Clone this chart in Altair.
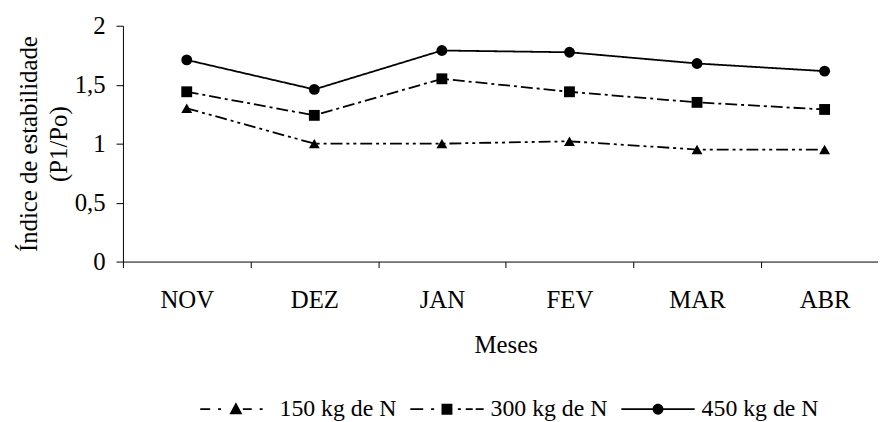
import altair as alt
import pandas as pd

months = ["NOV", "DEZ", "JAN", "FEV", "MAR", "ABR"]
series = ["150 kg de N", "300 kg de N", "450 kg de N"]
v150 = [1.30, 1.00, 1.00, 1.02, 0.95, 0.95]
v300 = [1.44, 1.24, 1.55, 1.44, 1.35, 1.29]
v450 = [1.71, 1.46, 1.79, 1.775, 1.68, 1.615]
y_ticks = [0, 0.5, 1, 1.5, 2]

rows = []
for name, vals in zip(series, [v150, v300, v450]):
    for m, v in zip(months, vals):
        rows.append({"Mes": m, "Serie": name, "Valor": v})
df = pd.DataFrame(rows)

# legend symbols: line + marker drawn as one custom path (unit = 37 px)
U = 37.0
H = 0.9


def seg(x0, x1, h=H):
    return (f"M{x0/U:.4f},{-h/U:.4f}L{x1/U:.4f},{-h/U:.4f}"
            f"L{x1/U:.4f},{h/U:.4f}L{x0/U:.4f},{h/U:.4f}Z")


def tri():
    return (f"M0,{-7/U:.4f}L{6.5/U:.4f},{5/U:.4f}L{-6.5/U:.4f},{5/U:.4f}Z")


def sq():
    s = 5.5 / U
    return f"M{-s:.4f},{-s:.4f}L{s:.4f},{-s:.4f}L{s:.4f},{s:.4f}L{-s:.4f},{s:.4f}Z"


def circ():
    r = 5.5 / U
    return f"M{r:.4f},0A{r:.4f},{r:.4f} 0 1,1 {-r:.4f},0A{r:.4f},{r:.4f} 0 1,1 {r:.4f},0Z"


p150 = seg(-36, -26) + seg(-18, -15) + tri() + seg(7, 16) + seg(24, 27)
p300 = seg(-37, -24) + seg(-16, -13) + sq() + seg(11, 14) + seg(19, 26) + seg(29, 37)
p450 = seg(-37, -5) + circ() + seg(5, 37)

FONT = "Liberation Serif, Times New Roman, serif"

x_enc = alt.X(
    "Mes:N",
    sort=months,
    scale=alt.Scale(domain=months, range=[0, 772.5], paddingInner=0, paddingOuter=0),
    axis=alt.Axis(
        title="Meses",
        labelAngle=0,
        tickBand="extent",
        tickSize=6,
        labelPadding=20,
        titlePadding=21,
        domainColor="black",
        tickColor="black",
        labelColor="black",
        titleColor="black",
        labelFontSize=25,
        titleFontSize=25,
        grid=False,
    ),
)

y_enc = alt.Y(
    "Valor:Q",
    scale=alt.Scale(domain=[0, 2], nice=False),
    axis=alt.Axis(
        title=["Índice de estabilidade", "(P1/Po)"],
        values=y_ticks,
        labelExpr="replace(toString(datum.value), '.', ',')",
        tickSize=7,
        labelPadding=11,
        titlePadding=3,
        titleLineHeight=30,
        domainColor="black",
        tickColor="black",
        labelColor="black",
        titleColor="black",
        labelFontSize=25,
        titleFontSize=25,
        grid=False,
    ),
)

base = alt.Chart(df)

lines = base.mark_line(color="black", strokeWidth=1.8).encode(
    x=x_enc,
    y=y_enc,
    strokeDash=alt.StrokeDash(
        "Serie:N",
        scale=alt.Scale(domain=series, range=[[12, 4, 3, 4, 3, 4], [12, 4, 3, 4], [1, 0]]),
        legend=None,
    ),
)

points = base.mark_point(filled=True, color="black", opacity=1).encode(
    x=x_enc,
    y=y_enc,
    shape=alt.Shape(
        "Serie:N",
        scale=alt.Scale(domain=series, range=["triangle-up", "square", "circle"]),
        legend=None,
    ),
    size=alt.value(120),
)

legend_layer = base.mark_point(filled=True, color="black", opacity=0).encode(
    x=x_enc,
    y=y_enc,
    shape=alt.Shape(
        "Serie:N",
        scale=alt.Scale(domain=series, range=[p150, p300, p450]),
        legend=alt.Legend(
            title=None,
            orient="none",
            direction="horizontal",
            legendX=77,
            legendY=350,
            symbolSize=74 * 74,
            symbolOpacity=1,
            symbolFillColor="black",
            symbolStrokeWidth=0,
            labelOffset=7,
            labelFontSize=24,
            labelFont=FONT,
            labelColor="black",
            columnPadding=14,
            padding=0,
        ),
    ),
)

chart = (
    alt.layer(lines, points, legend_layer)
    .resolve_scale(shape="independent")
    .resolve_legend(shape="independent")
    .properties(
        width=762,
        height=238,
        autosize=alt.AutoSizeParams(type="none"),
        padding={"left": 116, "top": 16, "right": 0, "bottom": 160},
        background="white",
    )
    .configure_view(stroke=None)
    .configure_axis(labelFont=FONT, titleFont=FONT, titleFontWeight="normal")
)

chart.save("out.html", embed_options={"renderer": "svg", "actions": False})
